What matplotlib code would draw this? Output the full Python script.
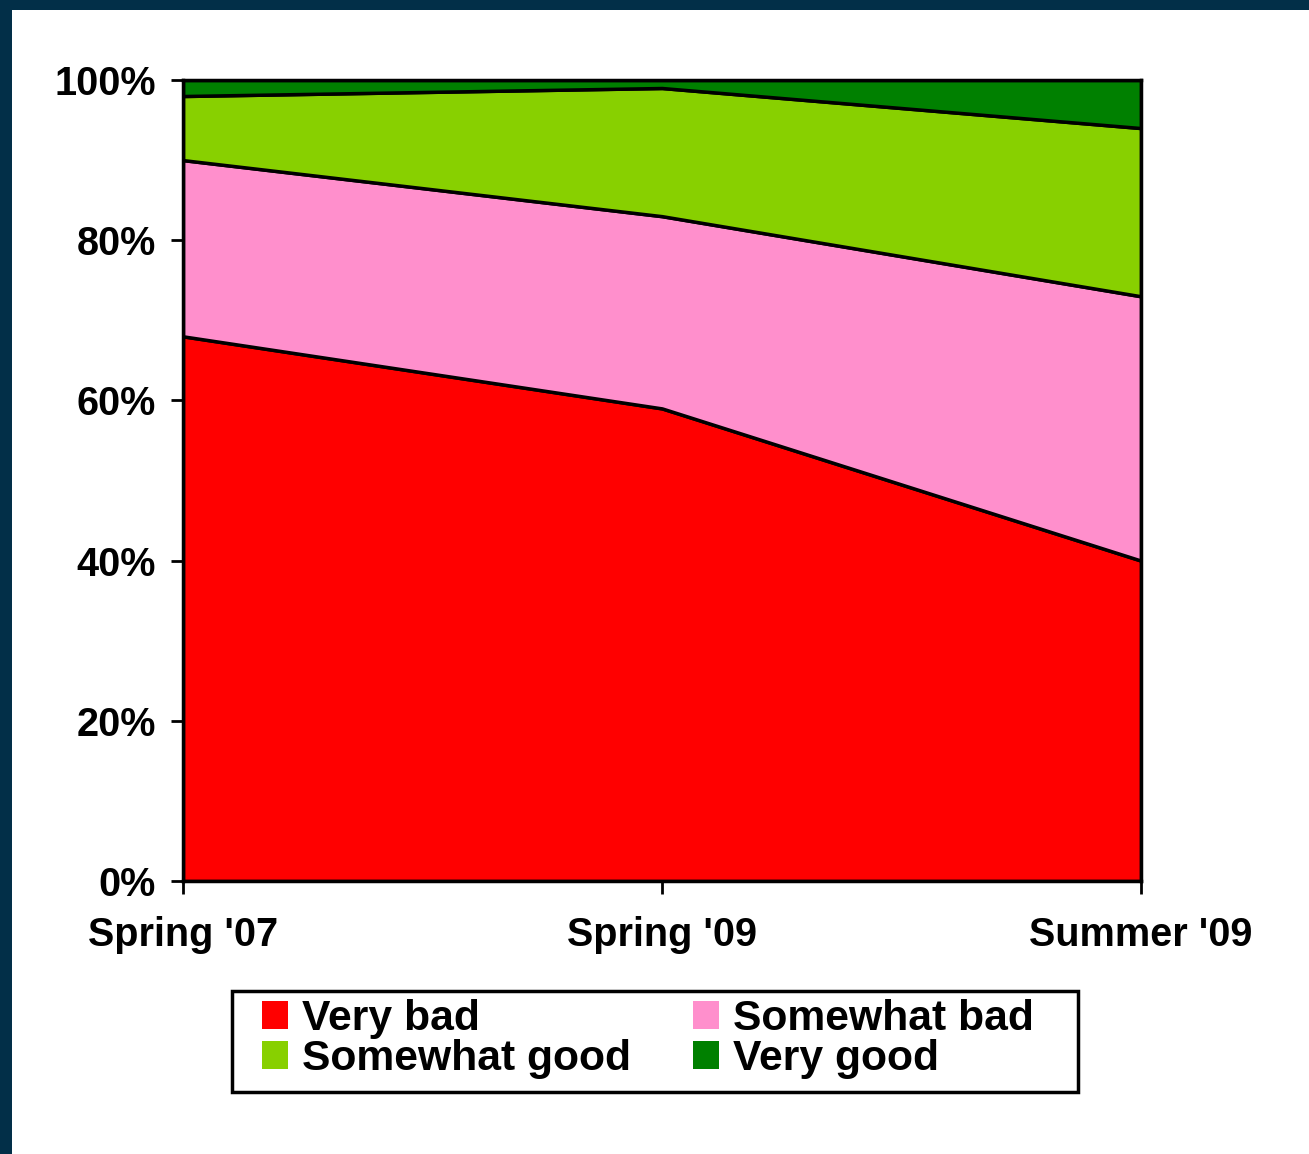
import matplotlib
matplotlib.use("Agg")
import matplotlib.pyplot as plt
from matplotlib.patches import Rectangle
from matplotlib.ticker import FuncFormatter

# ---------------- DATA ----------------

periods = ["Spring '07", "Spring '09", "Summer '09"]
very_bad = [68, 59, 40]
somewhat_bad = [22, 24, 33]
somewhat_good = [8, 16, 21]
very_good = [2, 1, 6]

labels = ["Very bad", "Somewhat bad", "Somewhat good", "Very good"]
colors = ["#FF0000", "#FF8FCC", "#88D000", "#008000"]

# --------------------------------------

plt.rcParams["font.family"] = ["Liberation Sans", "DejaVu Sans"]
plt.rcParams["font.weight"] = "bold"

W, H = 1309, 1154
fig = plt.figure(figsize=(W / 100, H / 100), dpi=100)
fig.patch.set_facecolor("#022f48")
# white slide area inside the dark border
fig.patches.append(Rectangle((12 / W, 0), 1, 1 - 10 / H,
                             transform=fig.transFigure, facecolor="white",
                             edgecolor="none", zorder=-5))

ax = fig.add_axes([183 / W, 1 - 881 / H, 958 / W, 801 / H])
ax.set_zorder(2)
ax.set_facecolor("white")

x = list(range(len(periods)))
polys = ax.stackplot(x, very_bad, somewhat_bad, somewhat_good, very_good,
                     colors=colors, labels=labels,
                     edgecolor="black", linewidth=2.5)

ax.set_xlim(0, 2)
ax.set_ylim(0, 100)
ax.set_xticks(x)
ax.set_xticklabels(periods)
ax.set_yticks([0, 20, 40, 60, 80, 100])
ax.yaxis.set_major_formatter(FuncFormatter(lambda v, _: f"{v:.0f}%"))

for s in ax.spines.values():
    s.set_linewidth(2.5)
    s.set_color("black")

ax.tick_params(axis="both", labelsize=28.5, width=2, length=9, color="black")
ax.tick_params(axis="y", pad=10.5)
ax.tick_params(axis="x", pad=16.5)
for t in ax.get_xticklabels() + ax.get_yticklabels():
    t.set_fontweight("bold")

# legend box drawn separately (wider side padding than matplotlib gives)
fig.patches.append(Rectangle((232 / W, 1 - 1092 / H), 846 / W, 101 / H,
                             transform=fig.transFigure, facecolor="white",
                             edgecolor="black", linewidth=2.5, zorder=3))

# matplotlib fills column-wise, so reorder for row-wise display
order = [0, 2, 1, 3]
handles = [polys[i] for i in order]
leg = fig.legend(handles, [labels[i] for i in order], ncol=2,
                 loc="upper left", bbox_to_anchor=(262 / W, 1 - 999 / H),
                 prop={"size": 30.7, "weight": "bold"},
                 frameon=False, borderpad=0, borderaxespad=0,
                 handlelength=0.62, handleheight=0.62, handletextpad=0.31,
                 columnspacing=1.46, labelspacing=0.0)
leg.set_zorder(4)
for h in leg.legend_handles:
    h.set_edgecolor("none")

plt.savefig("out.png", dpi=100, facecolor=fig.get_facecolor())
plt.close()
